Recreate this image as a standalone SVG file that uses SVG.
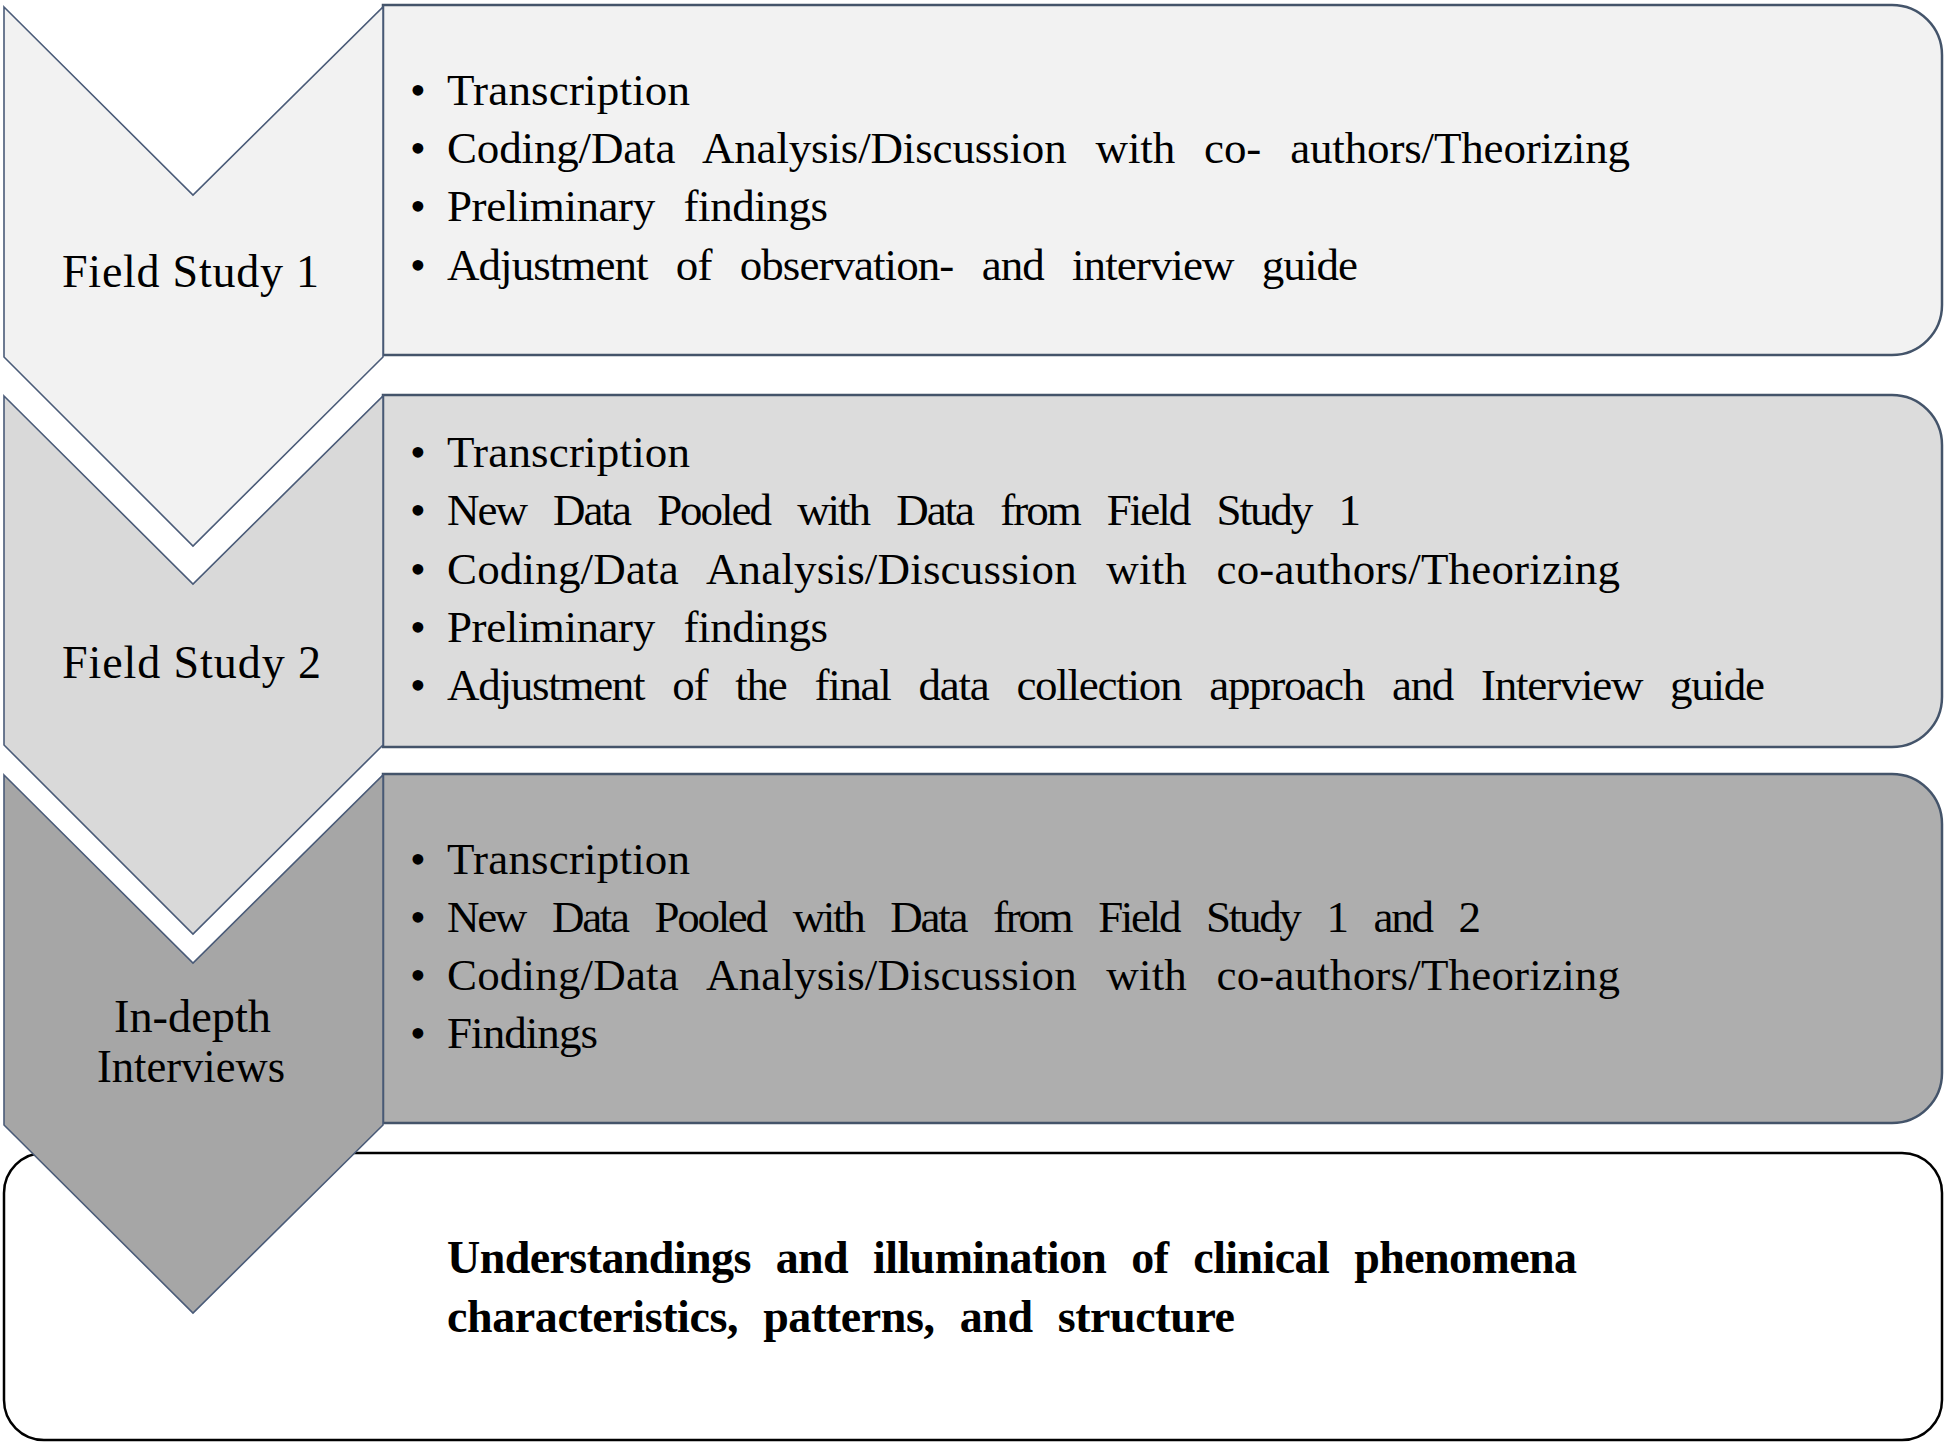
<svg xmlns="http://www.w3.org/2000/svg" width="1946" height="1445" viewBox="0 0 1946 1445">
<style>
  .chev { stroke: #4A5B78; stroke-width: 1.6; stroke-linejoin: miter; }
  .box { stroke: #44546A; stroke-width: 2.5; }
  .final { fill: #FFFFFF; stroke: #000000; stroke-width: 2.5; }
  .lbl { font-family: "Liberation Serif", "Times New Roman", serif; font-size: 46px; fill: #000; text-anchor: start; }
  .item { font-family: "Liberation Serif", "Times New Roman", serif; font-size: 45px; fill: #000; word-spacing: 18px; }
  .bul { font-family: "Liberation Serif", "Times New Roman", serif; font-size: 45px; fill: #000; text-anchor: middle; }
  .bold { font-family: "Liberation Serif", "Times New Roman", serif; font-size: 46px; font-weight: bold; fill: #000; word-spacing: 14px; }
</style>
<rect x="0" y="0" width="1946" height="1445" fill="#FFFFFF"/>

<g id="final-outcome">
  <rect class="final" x="4" y="1153" width="1938" height="287" rx="40" ry="40"/>
  <text class="bold" x="447" y="1273" textLength="1130" lengthAdjust="spacing">Understandings and illumination of clinical phenomena</text>
  <text class="bold" x="447" y="1332" textLength="788" lengthAdjust="spacing">characteristics, patterns, and structure</text>
</g>

<g id="field-study-1">
  <path class="box" fill="#F2F2F2" d="M383,5 H1892 A50,50 0 0 1 1942,55 V305 A50,50 0 0 1 1892,355 H383 Z"/>
  <polygon class="chev" fill="#F2F2F2" points="4,7 193,195 383,7 383,357 193,546 4,357"/>
  <text class="lbl" x="62" y="287" textLength="257" lengthAdjust="spacing">Field Study 1</text>
  <text class="bul" x="418" y="105">•</text>
  <text class="item" x="447" y="105" textLength="243" lengthAdjust="spacing">Transcription</text>
  <text class="bul" x="418" y="163">•</text>
  <text class="item" x="447" y="163" textLength="1183" lengthAdjust="spacing">Coding/Data Analysis/Discussion with co- authors/Theorizing</text>
  <text class="bul" x="418" y="221">•</text>
  <text class="item" x="447" y="221" textLength="381" lengthAdjust="spacing">Preliminary findings</text>
  <text class="bul" x="418" y="280">•</text>
  <text class="item" x="447" y="280" textLength="911" lengthAdjust="spacing">Adjustment of observation- and interview guide</text>
</g>

<g id="field-study-2">
  <path class="box" fill="#DCDCDC" d="M383,395 H1892 A50,50 0 0 1 1942,445 V697 A50,50 0 0 1 1892,747 H383 Z"/>
  <polygon class="chev" fill="#D9D9D9" points="4,396 193,584 383,396 383,745 193,934 4,745"/>
  <text class="lbl" x="62" y="678" textLength="259" lengthAdjust="spacing">Field Study 2</text>
  <text class="bul" x="418" y="467">•</text>
  <text class="item" x="447" y="467" textLength="243" lengthAdjust="spacing">Transcription</text>
  <text class="bul" x="418" y="525">•</text>
  <text class="item" x="447" y="525" textLength="914" lengthAdjust="spacing">New Data Pooled with Data from Field Study 1</text>
  <text class="bul" x="418" y="584">•</text>
  <text class="item" x="447" y="584" textLength="1173" lengthAdjust="spacing">Coding/Data Analysis/Discussion with co-authors/Theorizing</text>
  <text class="bul" x="418" y="642">•</text>
  <text class="item" x="447" y="642" textLength="381" lengthAdjust="spacing">Preliminary findings</text>
  <text class="bul" x="418" y="700">•</text>
  <text class="item" x="447" y="700" textLength="1318" lengthAdjust="spacing">Adjustment of the final data collection approach and Interview guide</text>
</g>

<g id="in-depth-interviews">
  <path class="box" fill="#AEAEAE" d="M383,774 H1892 A50,50 0 0 1 1942,824 V1073 A50,50 0 0 1 1892,1123 H383 Z"/>
  <polygon class="chev" fill="#A6A6A6" points="4,775 193,963 383,775 383,1125 193,1313 4,1125"/>
  <text class="lbl" x="114" y="1032" textLength="157" lengthAdjust="spacingAndGlyphs">In-depth</text>
  <text class="lbl" x="97" y="1082" textLength="188" lengthAdjust="spacingAndGlyphs">Interviews</text>
  <text class="bul" x="418" y="874">•</text>
  <text class="item" x="447" y="874" textLength="243" lengthAdjust="spacing">Transcription</text>
  <text class="bul" x="418" y="932">•</text>
  <text class="item" x="447" y="932" textLength="1034" lengthAdjust="spacing">New Data Pooled with Data from Field Study 1 and 2</text>
  <text class="bul" x="418" y="990">•</text>
  <text class="item" x="447" y="990" textLength="1173" lengthAdjust="spacing">Coding/Data Analysis/Discussion with co-authors/Theorizing</text>
  <text class="bul" x="418" y="1048">•</text>
  <text class="item" x="447" y="1048" textLength="151" lengthAdjust="spacing">Findings</text>
</g>

<g id="connectors"></g>
</svg>
